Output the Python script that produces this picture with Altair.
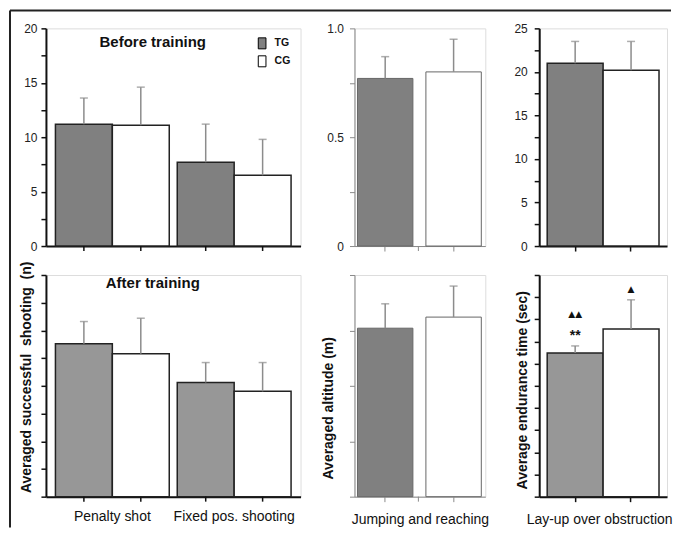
import altair as alt
import pandas as pd

# ---------------- data ----------------
groups = ["TG", "CG"]
shoot_cats = ["Penalty shot", "Fixed pos. shooting"]
jump_cat = "Jumping and reaching"
layup_cat = "Lay-up over obstruction"

# shooting (n): values per category, TG and CG
shoot_before_tg = [11.2, 7.7]
shoot_before_tg_sd = [2.4, 3.5]
shoot_before_cg = [11.1, 6.5]
shoot_before_cg_sd = [3.5, 3.3]
shoot_after_tg = [13.8, 10.3]
shoot_after_tg_sd = [2.0, 1.8]
shoot_after_cg = [12.9, 9.5]
shoot_after_cg_sd = [3.2, 2.6]

# jumping and reaching (m): [TG, CG]
jump_before = [0.77, 0.80]
jump_before_sd = [0.10, 0.15]
jump_after = [0.76, 0.81]
jump_after_sd = [0.11, 0.14]

# lay-up endurance (sec): [TG, CG]
layup_before = [21.0, 20.2]
layup_before_sd = [2.5, 3.3]
layup_after = [16.2, 18.9]
layup_after_sd = [0.8, 3.3]
layup_after_tri = ["▲▲", "▲"]
layup_after_star = ["**", ""]

panel_titles = ["Before training", "After training"]
y_titles = ["Averaged successful \u00a0shooting \u00a0(n)", "Averaged altitude (m)",
            "Average endurance time (sec)"]

FONT = "Liberation Sans"


def rows_two_groups(cats, tg, tg_sd, cg, cg_sd):
    out = []
    for i, c in enumerate(cats):
        out.append({"cat": c, "group": "TG", "mean": tg[i], "top": tg[i] + tg_sd[i]})
        out.append({"cat": c, "group": "CG", "mean": cg[i], "top": cg[i] + cg_sd[i]})
    return out


def rows_single(vals, sds):
    return [{"group": g, "mean": vals[i], "top": vals[i] + sds[i]}
            for i, g in enumerate(groups)]


BLACK = {"axis": "#111111", "dw": 2, "tw": 1.5, "bar_stroke": "#222222", "bar_sw": 1.5}
GRAY = {"axis": "#8a8a8a", "dw": 1, "tw": 1, "bar_stroke": "#666666", "bar_sw": 1}
ERR = "#8c8c8c"


def yaxis(vals, expr, style, title=None, tx=0, ty=0, lpad=4):
    kw = dict(values=vals, grid=False, domainColor=style["axis"], domainWidth=style["dw"],
              tickColor=style["axis"], tickWidth=style["tw"], tickSize=5,
              labelFont=FONT, labelFontSize=12, labelColor="#222222", labelPadding=lpad)
    if expr:
        kw["labelExpr"] = expr
    else:
        kw["labels"] = False
    if title:
        kw.update(title=title, titleX=tx, titleY=ty, titleAngle=270, titleBaseline="bottom",
                  titleAlign="center", titleFont=FONT, titleFontSize=14,
                  titleFontWeight="bold", titleColor="#111111")
    else:
        kw["title"] = None
    return alt.Axis(**kw)


def common_layers(df, X, XO, Y, color, style, height):
    enc = dict(x=X())
    if XO is not None:
        enc["xOffset"] = XO()
    bars = alt.Chart(df).mark_bar(stroke=style["bar_stroke"], strokeWidth=style["bar_sw"]).encode(
        y=Y("mean:Q"), color=color, **enc)
    err = alt.Chart(df).mark_rule(color=ERR, strokeWidth=1.5).encode(
        y=Y("mean:Q"), y2="top:Q", **enc)
    cap = alt.Chart(df).mark_tick(color=ERR, thickness=1.5, size=8).encode(
        y=Y("top:Q"), **enc)
    layers = [bars, err, cap]
    if XO is not None:
        ticks = alt.Chart(df).mark_rule(color=style["axis"], strokeWidth=style["tw"]).encode(
            y=alt.value(height), y2=alt.value(height + 5), **enc)
        layers.append(ticks)
    return layers


def grouped_panel(rows, cats, width, height, ymax, yvals, yexpr, style, tg_color,
                  x_po, x_pi, xlabels, ytitle=None, tx=0, ty=0, legend=None, extra=()):
    df = pd.DataFrame(rows)
    xaxis = alt.Axis(title=None, labels=xlabels, ticks=False, tickSize=0,
                     domainColor=style["axis"], domainWidth=style["dw"], labelFont=FONT,
                     labelFontSize=14, labelColor="#111111", labelAngle=0, grid=False,
                     labelPadding=13)
    yax = yaxis(yvals, yexpr, style, ytitle, tx, ty, 4)

    def X():
        return alt.X("cat:N", sort=cats,
                     scale=alt.Scale(domain=cats, paddingInner=x_pi, paddingOuter=x_po),
                     axis=xaxis)

    def XO():
        return alt.XOffset("group:N", sort=groups,
                           scale=alt.Scale(domain=groups, paddingInner=0, paddingOuter=0))

    def Y(f):
        return alt.Y(f, scale=alt.Scale(domain=[0, ymax], nice=False), axis=yax)

    color = alt.Color("group:N", sort=groups,
                      scale=alt.Scale(domain=groups, range=[tg_color, "#ffffff"]),
                      legend=legend)
    layers = common_layers(df, X, XO, Y, color, style, height)
    for e in extra:
        layers.append(e(df, X, XO, Y))
    return alt.layer(*layers).properties(width=width, height=height)


def single_panel(vals, sds, cat, width, height, ymax, yvals, yexpr, style, tg_color,
                 po, pi, align, show_cat, center_tick, lpad, ytitle=None, tx=0, ty=0,
                 cat_x=None, extra=()):
    df = pd.DataFrame(rows_single(vals, sds))
    xkw = dict(labels=False, ticks=True, tickSize=5, tickColor=style["axis"],
               tickWidth=style["tw"], domainColor=style["axis"], domainWidth=style["dw"],
               grid=False)
    if show_cat:
        xkw.update(title=cat, titleFont=FONT, titleFontSize=14, titleFontWeight="normal",
                   titleColor="#111111", titlePadding=10)
        if cat_x is not None:
            xkw["titleX"] = cat_x
    else:
        xkw["title"] = None
    xaxis = alt.Axis(**xkw)
    yax = yaxis(yvals, yexpr, style, ytitle, tx, ty, lpad)

    def X():
        return alt.X("group:N", sort=groups,
                     scale=alt.Scale(domain=groups, paddingInner=pi, paddingOuter=po,
                                     align=align),
                     axis=xaxis)

    def Y(f):
        return alt.Y(f, scale=alt.Scale(domain=[0, ymax], nice=False), axis=yax)

    color = alt.Color("group:N", sort=groups,
                      scale=alt.Scale(domain=groups, range=[tg_color, "#ffffff"]),
                      legend=None)
    layers = common_layers(df, X, None, Y, color, style, height)
    if center_tick is not None:
        layers.append(alt.Chart(alt.Data(values=[{"k": 1}])).mark_rule(
            color=style["axis"], strokeWidth=style["tw"]).encode(
            x=alt.value(center_tick), y=alt.value(height), y2=alt.value(height + 5)))
    for e in extra:
        layers.append(e(df, X, None, Y))
    return alt.layer(*layers).properties(width=width, height=height)


def title_layer(text, x, y):
    def f(df, X, XO, Y):
        return alt.Chart(alt.Data(values=[{"t": text}])).mark_text(
            font=FONT, fontSize=15, fontWeight="bold", color="#111111",
            align="center", baseline="middle").encode(
            x=alt.value(x), y=alt.value(y), text="t:N")
    return f


def frame_layer(df, X, XO, Y):
    d = alt.Data(values=[{"k": 1}])
    top = alt.Chart(d).mark_rule(color="#222222", strokeWidth=2).encode(
        x=alt.value(-36), x2=alt.value(626), y=alt.value(-18))
    left = alt.Chart(d).mark_rule(color="#222222", strokeWidth=2).encode(
        x=alt.value(-36), y=alt.value(-18), y2=alt.value(500))
    return alt.layer(top, left)


def sig_layer(df, X, XO, Y):
    ann = df.copy()
    ann["tri"] = layup_after_tri
    ann["star"] = layup_after_star
    tri_tg = alt.Chart(ann).transform_filter("datum.group === 'TG'").mark_text(
        baseline="middle", dy=-32, fontSize=9, color="#111111", font="DejaVu Sans").encode(
        x=X(), y=Y("top:Q"), text="tri:N")
    tri_cg = alt.Chart(ann).transform_filter("datum.group === 'CG'").mark_text(
        baseline="middle", dy=-11, fontSize=9, color="#111111", font="DejaVu Sans").encode(
        x=X(), y=Y("top:Q"), text="tri:N")
    star = alt.Chart(ann).mark_text(baseline="middle", dy=-10, fontSize=14,
                                    fontWeight="bold", color="#111111", font=FONT).encode(
        x=X(), y=Y("top:Q"), text="star:N")
    return alt.layer(tri_tg, tri_cg, star)


legend_tl = alt.Legend(orient="none", legendX=210.5, legendY=9, title=None,
                       symbolType="M-0.7,-1H0.7V1H-0.7Z", symbolSize=121,
                       symbolStrokeColor="#000000", symbolStrokeWidth=1,
                       labelFont=FONT, labelFontWeight="bold", labelFontSize=10.5,
                       labelColor="#111111", labelOffset=6.5, rowPadding=2, padding=0)

vals20 = [0, 2.5, 5, 7.5, 10, 12.5, 15, 17.5, 20]
vals25 = [0, 2.5, 5, 7.5, 10, 12.5, 15, 17.5, 20, 22.5, 25]
vals1 = [0, 0.25, 0.5, 0.75, 1.0]
expr5 = "datum.value % 5 === 0 ? format(datum.value, 'd') : ''"
expr1 = "datum.value === 0 ? '0' : datum.value === 0.5 ? '0.5' : datum.value === 1 ? '1.0' : ''"

W_L, W_M, W_R = 255, 131, 128
H_T, H_B = 218, 222
PO_M, PI_M, AL_M = 0.051, 0.19, 0.43
PO_R = 0.143

p_tl = grouped_panel(rows_two_groups(shoot_cats, shoot_before_tg, shoot_before_tg_sd,
                                     shoot_before_cg, shoot_before_cg_sd),
                     shoot_cats, W_L, H_T, 20, vals20, expr5, BLACK, "#808080",
                     0.0779, 0.0656, False, legend=legend_tl,
                     extra=[frame_layer, title_layer(panel_titles[0], 107, 14)])
p_tm = single_panel(jump_before, jump_before_sd, jump_cat, W_M, H_T, 1.0, vals1, expr1,
                    GRAY, "#808080", PO_M, PI_M, AL_M, False, 64, 6)
p_tr = single_panel(layup_before, layup_before_sd, layup_cat, W_R, H_T, 25, vals25, expr5,
                    BLACK, "#808080", PO_R, 0, 0.5, False, None, 7)

p_bl = grouped_panel(rows_two_groups(shoot_cats, shoot_after_tg, shoot_after_tg_sd,
                                     shoot_after_cg, shoot_after_cg_sd),
                     shoot_cats, W_L, H_B, 20, vals20, None, BLACK, "#979797",
                     0.0779, 0.0656, True, ytitle=y_titles[0], tx=-12, ty=102,
                     extra=[title_layer(panel_titles[1], 107, 8)])
p_bm = single_panel(jump_after, jump_after_sd, jump_cat, W_M, H_B, 1.0, vals1, None,
                    GRAY, "#808080", PO_M, PI_M, AL_M, True, 64, 6,
                    ytitle=y_titles[1], tx=-19, ty=133)
p_br = single_panel(layup_after, layup_after_sd, layup_cat, W_R, H_B, 25, vals25, None,
                    BLACK, "#979797", PO_R, 0, 0.5, True, None, 7,
                    ytitle=y_titles[2], tx=-10, ty=115, cat_x=60, extra=[sig_layer])

chart = alt.concat(p_tl, p_tm, p_tr, p_bl, p_bm, p_br, columns=3,
                   spacing={"row": 29, "column": 54}, bounds="flush", align="each",
                   padding=0).resolve_scale(color="independent").configure_view(
    stroke="transparent").configure(font=FONT, background="#ffffff")

chart.save("out.html", embed_options={"renderer": "svg", "actions": False})
